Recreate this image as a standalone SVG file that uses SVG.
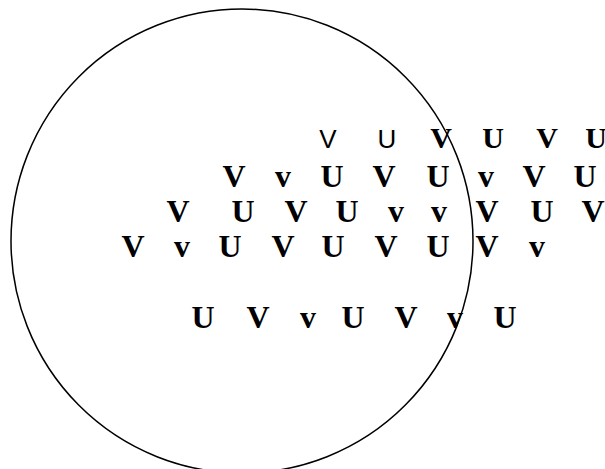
<svg xmlns="http://www.w3.org/2000/svg" width="605" height="469" viewBox="0 0 605 469">
<style>
.b{font-family:"Liberation Serif","Times New Roman",serif;font-weight:bold;font-size:32px;fill:#000;text-anchor:middle}
.b1{font-size:30px}
.s{font-family:"Liberation Sans",Arial,sans-serif;font-size:26px;fill:#000;text-anchor:middle}
</style>
<rect width="605" height="469" fill="#fff"/>
<g id="circle"><ellipse cx="242" cy="241" rx="231" ry="232" fill="none" stroke="#000" stroke-width="1.5"/></g>
<g id="row1">
<text class="s" x="328" y="148">V</text>
<text class="s" x="387" y="148">U</text>
<text class="b b1" x="441" y="148">V</text>
<text class="b b1" x="493" y="148">U</text>
<text class="b b1" x="547" y="148">V</text>
<text class="b b1" x="596" y="148">U</text>
</g>
<g id="row2">
<text class="b" x="234" y="187">V</text>
<text class="b" x="283" y="187">v</text>
<text class="b" x="332" y="187">U</text>
<text class="b" x="384" y="187">V</text>
<text class="b" x="438" y="187">U</text>
<text class="b" x="486" y="187">v</text>
<text class="b" x="534" y="187">V</text>
<text class="b" x="585" y="187">U</text>
</g>
<g id="row3">
<text class="b" x="178" y="222">V</text>
<text class="b" x="243" y="222">U</text>
<text class="b" x="296" y="222">V</text>
<text class="b" x="347" y="222">U</text>
<text class="b" x="396" y="222">v</text>
<text class="b" x="439" y="222">v</text>
<text class="b" x="487" y="222">V</text>
<text class="b" x="542" y="222">U</text>
<text class="b" x="593" y="222">V</text>
</g>
<g id="row4">
<text class="b" x="133" y="257">V</text>
<text class="b" x="182" y="257">v</text>
<text class="b" x="230" y="257">U</text>
<text class="b" x="283" y="257">V</text>
<text class="b" x="333" y="257">U</text>
<text class="b" x="386" y="257">V</text>
<text class="b" x="438" y="257">U</text>
<text class="b" x="487" y="257">V</text>
<text class="b" x="537" y="257">v</text>
</g>
<g id="row5">
<text class="b" x="203" y="328">U</text>
<text class="b" x="258" y="328">V</text>
<text class="b" x="308" y="328">v</text>
<text class="b" x="353" y="328">U</text>
<text class="b" x="406" y="328">V</text>
<text class="b" x="455" y="328">v</text>
<text class="b" x="505" y="328">U</text>
</g>
</svg>
